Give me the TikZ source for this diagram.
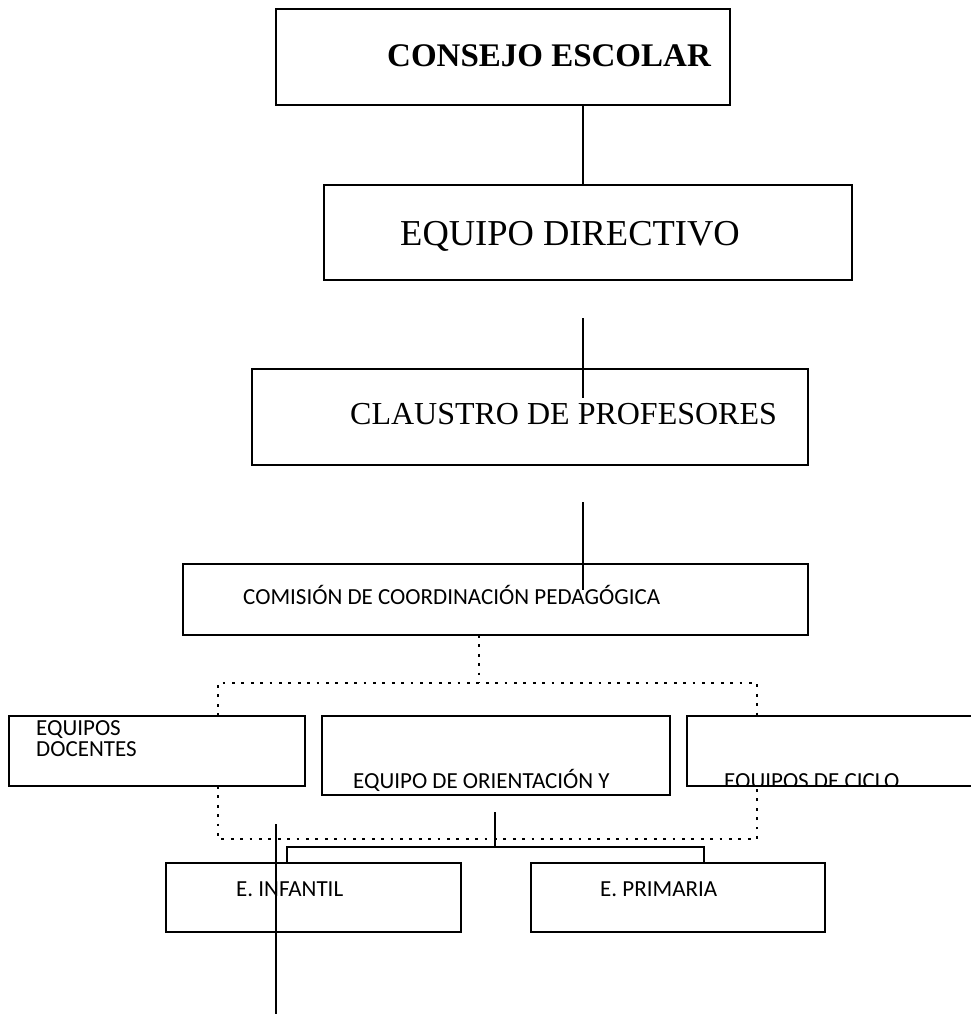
\documentclass[tikz,border=0pt]{standalone}
\usepackage{fontspec}
\setmainfont{Liberation Serif}
\newfontfamily\calibri{Carlito}

\begin{document}
\begin{tikzpicture}[x=1pt, y=-1pt,
  caja/.style = {draw, line width=1.6pt, rectangle, inner sep=0pt, outer sep=0pt, anchor=north west},
  linea/.style = {line width=1.6pt},
  puntos/.style = {line width=2.8pt, dash pattern=on 2.8pt off 6.6pt},
  rotulo/.style = {anchor=base west, inner sep=0pt, font=\calibri\fontsize{23}{21}\selectfont},
  titulo/.style = {anchor=base west, inner sep=0pt, font=\fontsize{#1}{#1}\selectfont},
  titulo/.default = 36]

\useasboundingbox (0,0) rectangle (971,1014);

% Cajas
\node[caja, minimum width=454pt, minimum height=96pt] (consejo) at (276,9) {};
\node[caja, minimum width=528pt, minimum height=95pt] (directivo) at (324,185) {};
\node[caja, minimum width=556pt, minimum height=96pt] (claustro) at (252,369) {};
\node[caja, minimum width=625pt, minimum height=71pt] (ccp) at (183,564) {};
\node[caja, minimum width=296pt, minimum height=70pt] (docentes) at (9,716) {};
\node[caja, minimum width=348pt, minimum height=79pt] (orientacion) at (322,716) {};
\node[caja, minimum width=300pt, minimum height=70pt] (ciclo) at (687,716) {};
\node[caja, minimum width=295pt, minimum height=69pt] (infantil) at (166,863) {};
\node[caja, minimum width=294pt, minimum height=69pt] (primaria) at (531,863) {};

% Textos
\node[titulo, font=\bfseries\fontsize{33}{33}\selectfont] (consejo-t) at (387,67) {CONSEJO ESCOLAR};
\node[titulo=36.5] (directivo-t) at (400,245) {EQUIPO DIRECTIVO};
\node[titulo=32] (claustro-t) at (350,424) {CLAUSTRO DE PROFESORES};
\node[rotulo] (ccp-t) at (243,604) {COMISIÓN DE COORDINACIÓN PEDAGÓGICA};
\node[rotulo, align=left, anchor=north west] (docentes-t) at (36,720) {EQUIPOS\\DOCENTES};
\node[rotulo] (orientacion-t) at (353,788) {EQUIPO DE ORIENTACIÓN Y};
\begin{scope}
  \clip (ciclo.north west) rectangle (ciclo.south east);
  \node[rotulo] (ciclo-t) at (724,788) {EQUIPOS DE CICLO};
\end{scope}
\node[rotulo] (infantil-t) at (236,896) {E. INFANTIL};
\node[rotulo] (primaria-t) at (600,896) {E. PRIMARIA};

% Lineas
\coordinate (eje) at (583,0);
\draw[linea] (consejo.south -| eje) -- (directivo.north -| eje);
\coordinate (d1) at (583,318);
\coordinate (d2) at (583,398);
\draw[linea] (d1) -- (d2);
\coordinate (c1) at (583,502);
\coordinate (c2) at (583,590);
\draw[linea] (c1) -- (c2);

% Punteado
\coordinate (p0) at (479,683);
\coordinate (pi) at (218,683);
\coordinate (pd) at (757,683);
\coordinate (qi) at (218,839);
\coordinate (qd) at (757,839);
\draw[puntos] (ccp.south -| p0) -- (p0);
\draw[puntos] (docentes.north -| pi) -- (pi) -- (pd) -- (ciclo.north -| pd);
\draw[puntos] (docentes.south -| qi) -- (qi) -- (qd) -- (ciclo.south -| qd);

% Orientacion a infantil y primaria
\coordinate (o1) at (495,812);
\coordinate (o2) at (495,847);
\coordinate (bi) at (287,847);
\coordinate (bd) at (704,847);
\draw[linea] (o1) -- (o2);
\draw[linea] (infantil.north -| bi) -- (bi) -- (bd) -- (primaria.north -| bd);

\coordinate (v1) at (276,824);
\coordinate (v2) at (276,1014);
\draw[linea] (v1) -- (v2);

\end{tikzpicture}
\end{document}
